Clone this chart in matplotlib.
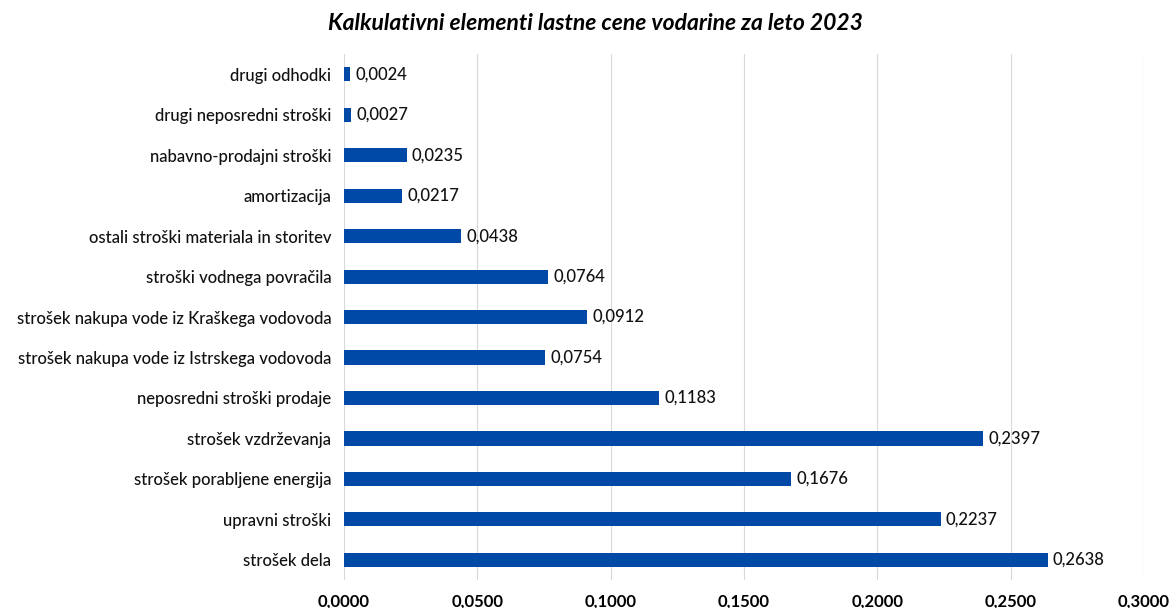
import matplotlib.pyplot as plt
from matplotlib.ticker import FuncFormatter

plt.rcParams['font.family'] = ['Lato', 'DejaVu Sans']

categories = [
    "strošek dela",
    "upravni stroški",
    "strošek porabljene energija",
    "strošek vzdrževanja",
    "neposredni stroški prodaje",
    "strošek nakupa vode iz Istrskega vodovoda",
    "strošek nakupa vode iz Kraškega vodovoda",
    "stroški vodnega povračila",
    "ostali stroški materiala in storitev",
    "amortizacija",
    "nabavno-prodajni stroški",
    "drugi neposredni stroški",
    "drugi odhodki",
]
values = [0.2638, 0.2237, 0.1676, 0.2397, 0.1183, 0.0754, 0.0912,
          0.0764, 0.0438, 0.0217, 0.0235, 0.0027, 0.0024]
xticks = [0.0, 0.05, 0.10, 0.15, 0.20, 0.25, 0.30]

fig = plt.figure(figsize=(11.74, 6.08), dpi=100)
ax = fig.add_axes([0.293, 0.046, 0.6815, 0.865])

ax.barh(range(len(categories)), values, height=0.35, color='#0049A6', zorder=3)
for i, v in enumerate(values):
    ax.text(v + 0.002, i, f"{v:.4f}".replace('.', ','), va='center', ha='left',
            fontsize=12, color='#111111', fontweight='medium')

ax.set_yticks(range(len(categories)))
ax.set_yticklabels(categories, fontsize=12, color='#111111', fontweight='medium')
ax.set_ylim(-0.5, len(categories) - 0.5)
ax.set_xlim(0, 0.30)
ax.set_xticks(xticks)
ax.xaxis.set_major_formatter(FuncFormatter(lambda x, p: f"{x:.4f}".replace('.', ',')))
for lab in ax.get_xticklabels():
    lab.set_fontsize(12)
    lab.set_fontweight('bold')
ax.tick_params(axis='both', length=0)
ax.tick_params(axis='x', pad=10)
ax.tick_params(axis='y', pad=9)
ax.grid(axis='x', color='#d9d9d9', linewidth=0.8, zorder=0)
for s in ax.spines.values():
    s.set_visible(False)

fig.suptitle("Kalkulativni elementi lastne cene vodarine za leto 2023",
             x=0.507, y=0.978, fontsize=16.5, fontweight='bold', style='italic')

fig.savefig('out.png', dpi=100)
